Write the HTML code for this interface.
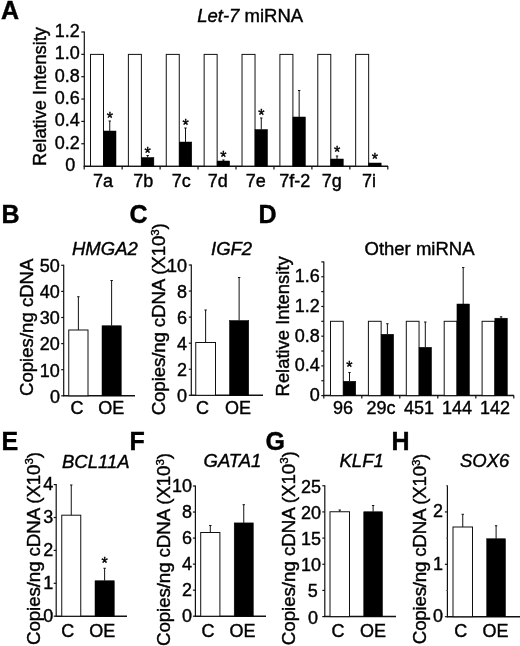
<!DOCTYPE html>
<html lang="en"><head><meta charset="utf-8"><title>Figure</title>
<style>
html,body{margin:0;padding:0;background:#fff;}
svg{display:block;font-family:"Liberation Sans",sans-serif;font-size:18px;fill:#000;}
text{stroke:#000;stroke-width:0.4px;}
</style></head><body>
<svg width="520" height="646" viewBox="0 0 520 646">
<rect x="0" y="0" width="520" height="646" fill="#fff"/>
<text x="1" y="18.8" font-size="25" font-weight="bold">A</text>
<text x="197.2" y="21.9" font-size="18.5"><tspan font-style="italic">Let-7</tspan> miRNA</text>
<text transform="translate(46 166) rotate(-90)" font-size="18.25">Relative Intensity</text>
<line x1="84.3" y1="31.5" x2="84.3" y2="166.6" stroke="#111" stroke-width="1.2"/>
<line x1="83.8" y1="166.3" x2="388" y2="166.3" stroke="#111" stroke-width="1.6"/>
<line x1="81.3" y1="32.0" x2="84.3" y2="32.0" stroke="#111" stroke-width="1.2"/>
<text x="79.8" y="36.8" text-anchor="end">1.2</text>
<line x1="81.3" y1="54.35" x2="84.3" y2="54.35" stroke="#111" stroke-width="1.2"/>
<text x="79.8" y="59.15" text-anchor="end">1.0</text>
<line x1="81.3" y1="76.7" x2="84.3" y2="76.7" stroke="#111" stroke-width="1.2"/>
<text x="79.8" y="81.5" text-anchor="end">0.8</text>
<line x1="81.3" y1="99.05" x2="84.3" y2="99.05" stroke="#111" stroke-width="1.2"/>
<text x="79.8" y="103.85" text-anchor="end">0.6</text>
<line x1="81.3" y1="121.4" x2="84.3" y2="121.4" stroke="#111" stroke-width="1.2"/>
<text x="79.8" y="126.2" text-anchor="end">0.4</text>
<line x1="81.3" y1="143.75" x2="84.3" y2="143.75" stroke="#111" stroke-width="1.2"/>
<text x="79.8" y="148.55" text-anchor="end">0.2</text>
<text x="75.3" y="171.4" text-anchor="end">0</text>
<line x1="84.2" y1="166.1" x2="84.2" y2="169.6" stroke="#111" stroke-width="1.2"/>
<line x1="122.15" y1="166.1" x2="122.15" y2="169.6" stroke="#111" stroke-width="1.2"/>
<line x1="160.1" y1="166.1" x2="160.1" y2="169.6" stroke="#111" stroke-width="1.2"/>
<line x1="198.05" y1="166.1" x2="198.05" y2="169.6" stroke="#111" stroke-width="1.2"/>
<line x1="236.0" y1="166.1" x2="236.0" y2="169.6" stroke="#111" stroke-width="1.2"/>
<line x1="273.95" y1="166.1" x2="273.95" y2="169.6" stroke="#111" stroke-width="1.2"/>
<line x1="311.9" y1="166.1" x2="311.9" y2="169.6" stroke="#111" stroke-width="1.2"/>
<line x1="349.85" y1="166.1" x2="349.85" y2="169.6" stroke="#111" stroke-width="1.2"/>
<line x1="387.8" y1="166.1" x2="387.8" y2="169.6" stroke="#111" stroke-width="1.2"/>
<rect x="90.50" y="54.40" width="13.00" height="111.70" fill="#fff" stroke="#111" stroke-width="1"/>
<rect x="103.50" y="131.00" width="12.50" height="35.10" fill="#000" stroke="#000" stroke-width="0.5"/>
<line x1="109.75" y1="131" x2="109.75" y2="121" stroke="#111" stroke-width="1"/>
<line x1="108.55" y1="121" x2="110.95" y2="121" stroke="#111" stroke-width="1"/>
<text x="109.75" y="124" text-anchor="middle" font-size="16">*</text>
<text x="102.98" y="187" text-anchor="middle">7a</text>
<rect x="128.38" y="54.40" width="13.00" height="111.70" fill="#fff" stroke="#111" stroke-width="1"/>
<rect x="141.38" y="157.50" width="12.50" height="8.60" fill="#000" stroke="#000" stroke-width="0.5"/>
<line x1="147.63" y1="157.5" x2="147.63" y2="155.5" stroke="#111" stroke-width="1"/>
<line x1="146.43" y1="155.5" x2="148.83" y2="155.5" stroke="#111" stroke-width="1"/>
<text x="147.63" y="158.5" text-anchor="middle" font-size="16">*</text>
<text x="143.23" y="187" text-anchor="middle">7b</text>
<rect x="166.26" y="54.40" width="13.00" height="111.70" fill="#fff" stroke="#111" stroke-width="1"/>
<rect x="179.26" y="142.00" width="12.50" height="24.10" fill="#000" stroke="#000" stroke-width="0.5"/>
<line x1="185.51" y1="142" x2="185.51" y2="128" stroke="#111" stroke-width="1"/>
<line x1="184.31" y1="128" x2="186.71" y2="128" stroke="#111" stroke-width="1"/>
<text x="185.51" y="130.5" text-anchor="middle" font-size="16">*</text>
<text x="181.38" y="187" text-anchor="middle">7c</text>
<rect x="204.14" y="54.40" width="13.00" height="111.70" fill="#fff" stroke="#111" stroke-width="1"/>
<rect x="217.14" y="161.00" width="12.50" height="5.10" fill="#000" stroke="#000" stroke-width="0.5"/>
<line x1="223.39" y1="161" x2="223.39" y2="160" stroke="#111" stroke-width="1"/>
<line x1="222.19" y1="160" x2="224.59" y2="160" stroke="#111" stroke-width="1"/>
<text x="223.39" y="163" text-anchor="middle" font-size="16">*</text>
<text x="217.83" y="187" text-anchor="middle">7d</text>
<rect x="242.02" y="54.40" width="13.00" height="111.70" fill="#fff" stroke="#111" stroke-width="1"/>
<rect x="255.02" y="129.50" width="12.50" height="36.60" fill="#000" stroke="#000" stroke-width="0.5"/>
<line x1="261.27" y1="129.5" x2="261.27" y2="118" stroke="#111" stroke-width="1"/>
<line x1="260.07" y1="118" x2="262.47" y2="118" stroke="#111" stroke-width="1"/>
<text x="261.27" y="121" text-anchor="middle" font-size="16">*</text>
<text x="255.78" y="187" text-anchor="middle">7e</text>
<rect x="279.90" y="54.40" width="13.00" height="111.70" fill="#fff" stroke="#111" stroke-width="1"/>
<rect x="292.90" y="117.00" width="12.50" height="49.10" fill="#000" stroke="#000" stroke-width="0.5"/>
<line x1="299.15" y1="117" x2="299.15" y2="90.5" stroke="#111" stroke-width="1"/>
<line x1="297.95" y1="90.5" x2="300.35" y2="90.5" stroke="#111" stroke-width="1"/>
<text x="294.73" y="187" text-anchor="middle">7f-2</text>
<rect x="317.78" y="54.40" width="13.00" height="111.70" fill="#fff" stroke="#111" stroke-width="1"/>
<rect x="330.78" y="159.00" width="12.50" height="7.10" fill="#000" stroke="#000" stroke-width="0.5"/>
<line x1="337.03" y1="159" x2="337.03" y2="156" stroke="#111" stroke-width="1"/>
<line x1="335.83" y1="156" x2="338.23" y2="156" stroke="#111" stroke-width="1"/>
<text x="337.03" y="157.5" text-anchor="middle" font-size="16">*</text>
<text x="331.68" y="187" text-anchor="middle">7g</text>
<rect x="355.66" y="54.40" width="13.00" height="111.70" fill="#fff" stroke="#111" stroke-width="1"/>
<rect x="368.66" y="163.00" width="12.50" height="3.10" fill="#000" stroke="#000" stroke-width="0.5"/>
<text x="374.91" y="164.5" text-anchor="middle" font-size="16">*</text>
<text x="369.12" y="187" text-anchor="middle">7i</text>
<text x="1.5" y="222.5" font-size="25" font-weight="bold">B</text>
<text x="72" y="255" font-size="18.5" font-style="italic">HMGA2</text>
<text transform="translate(33.3 396) rotate(-90)" font-size="18.6">Copies/ng cDNA</text>
<line x1="63.7" y1="264.8" x2="63.7" y2="396.3" stroke="#111" stroke-width="1.2"/>
<line x1="63.2" y1="395.8" x2="135" y2="395.8" stroke="#111" stroke-width="1.5"/>
<line x1="61.2" y1="265.3" x2="63.7" y2="265.3" stroke="#111" stroke-width="1.2"/>
<text x="59.9" y="272.1" text-anchor="end">50</text>
<line x1="61.2" y1="291.4" x2="63.7" y2="291.4" stroke="#111" stroke-width="1.2"/>
<text x="59.9" y="298.2" text-anchor="end">40</text>
<line x1="61.2" y1="317.5" x2="63.7" y2="317.5" stroke="#111" stroke-width="1.2"/>
<text x="59.9" y="324.3" text-anchor="end">30</text>
<line x1="61.2" y1="343.6" x2="63.7" y2="343.6" stroke="#111" stroke-width="1.2"/>
<text x="59.9" y="350.4" text-anchor="end">20</text>
<line x1="61.2" y1="369.7" x2="63.7" y2="369.7" stroke="#111" stroke-width="1.2"/>
<text x="59.9" y="376.5" text-anchor="end">10</text>
<line x1="61.2" y1="395.8" x2="63.7" y2="395.8" stroke="#111" stroke-width="1.2"/>
<text x="59.9" y="402.6" text-anchor="end">0</text>
<rect x="68.75" y="330.00" width="19.25" height="65.80" fill="#fff" stroke="#111" stroke-width="1"/>
<line x1="78.38" y1="330" x2="78.38" y2="296.75" stroke="#111" stroke-width="1"/>
<line x1="77.17" y1="296.75" x2="79.58" y2="296.75" stroke="#111" stroke-width="1"/>
<rect x="102.00" y="325.75" width="19.25" height="70.05" fill="#000" stroke="#000" stroke-width="0.5"/>
<line x1="111.62" y1="325.75" x2="111.62" y2="280.5" stroke="#111" stroke-width="1"/>
<line x1="110.42" y1="280.5" x2="112.83" y2="280.5" stroke="#111" stroke-width="1"/>
<text x="77" y="413.8" text-anchor="middle">C</text>
<text x="111.25" y="413.8" text-anchor="middle">OE</text>
<text x="129.5" y="222.5" font-size="25" font-weight="bold">C</text>
<text x="211" y="254.8" font-size="18.5" font-style="italic">IGF2</text>
<text transform="translate(165.3 415.3) rotate(-90)" font-size="18.8" textLength="192">Copies/ng cDNA (X10<tspan font-size="11.5" dy="-6.5">3</tspan><tspan dy="6.5">)</tspan></text>
<line x1="191.3" y1="264.5" x2="191.3" y2="395.8" stroke="#111" stroke-width="1.2"/>
<line x1="190.8" y1="395.3" x2="263" y2="395.3" stroke="#111" stroke-width="1.5"/>
<line x1="188.8" y1="265.0" x2="191.3" y2="265.0" stroke="#111" stroke-width="1.2"/>
<text x="187" y="271.7" text-anchor="end">10</text>
<line x1="188.8" y1="291.06" x2="191.3" y2="291.06" stroke="#111" stroke-width="1.2"/>
<text x="187" y="297.76" text-anchor="end">8</text>
<line x1="188.8" y1="317.12" x2="191.3" y2="317.12" stroke="#111" stroke-width="1.2"/>
<text x="187" y="323.82" text-anchor="end">6</text>
<line x1="188.8" y1="343.18" x2="191.3" y2="343.18" stroke="#111" stroke-width="1.2"/>
<text x="187" y="349.88" text-anchor="end">4</text>
<line x1="188.8" y1="369.24" x2="191.3" y2="369.24" stroke="#111" stroke-width="1.2"/>
<text x="187" y="375.94" text-anchor="end">2</text>
<line x1="188.8" y1="395.3" x2="191.3" y2="395.3" stroke="#111" stroke-width="1.2"/>
<text x="187" y="402.0" text-anchor="end">0</text>
<rect x="195.75" y="342.50" width="19.75" height="52.80" fill="#fff" stroke="#111" stroke-width="1"/>
<line x1="205.62" y1="342.5" x2="205.62" y2="310" stroke="#111" stroke-width="1"/>
<line x1="204.43" y1="310" x2="206.82" y2="310" stroke="#111" stroke-width="1"/>
<rect x="229.50" y="320.50" width="19.25" height="74.80" fill="#000" stroke="#000" stroke-width="0.5"/>
<line x1="239.12" y1="320.5" x2="239.12" y2="277.5" stroke="#111" stroke-width="1"/>
<line x1="237.93" y1="277.5" x2="240.32" y2="277.5" stroke="#111" stroke-width="1"/>
<text x="202.5" y="413.8" text-anchor="middle">C</text>
<text x="238" y="413.8" text-anchor="middle">OE</text>
<text x="1.5" y="449.5" font-size="25" font-weight="bold">E</text>
<text x="62" y="467.5" font-size="18.5" font-style="italic">BCL11A</text>
<text transform="translate(39.6 645) rotate(-90)" font-size="18.8" textLength="193">Copies/ng cDNA (X10<tspan font-size="11.5" dy="-6.5">3</tspan><tspan dy="6.5">)</tspan></text>
<line x1="56.2" y1="484.1" x2="56.2" y2="616.7" stroke="#111" stroke-width="1.2"/>
<line x1="55.7" y1="616.2" x2="127" y2="616.2" stroke="#111" stroke-width="1.5"/>
<line x1="53.7" y1="484.6" x2="56.2" y2="484.6" stroke="#111" stroke-width="1.2"/>
<text x="53.3" y="490.2" text-anchor="end">4</text>
<line x1="53.7" y1="517.5" x2="56.2" y2="517.5" stroke="#111" stroke-width="1.2"/>
<text x="53.3" y="523.1" text-anchor="end">3</text>
<line x1="53.7" y1="550.4" x2="56.2" y2="550.4" stroke="#111" stroke-width="1.2"/>
<text x="53.3" y="556.0" text-anchor="end">2</text>
<line x1="53.7" y1="583.3" x2="56.2" y2="583.3" stroke="#111" stroke-width="1.2"/>
<text x="53.3" y="588.9" text-anchor="end">1</text>
<line x1="53.7" y1="616.2" x2="56.2" y2="616.2" stroke="#111" stroke-width="1.2"/>
<text x="53.3" y="621.8" text-anchor="end">0</text>
<rect x="61.75" y="515.20" width="19.00" height="101.00" fill="#fff" stroke="#111" stroke-width="1"/>
<line x1="71.25" y1="515.2" x2="71.25" y2="485" stroke="#111" stroke-width="1"/>
<line x1="70.05" y1="485" x2="72.45" y2="485" stroke="#111" stroke-width="1"/>
<rect x="95.00" y="580.75" width="19.25" height="35.45" fill="#000" stroke="#000" stroke-width="0.5"/>
<line x1="104.62" y1="580.75" x2="104.62" y2="568.25" stroke="#111" stroke-width="1"/>
<line x1="103.42" y1="568.25" x2="105.83" y2="568.25" stroke="#111" stroke-width="1"/>
<text x="67.8" y="637.3" text-anchor="middle">C</text>
<text x="102.3" y="637.3" text-anchor="middle">OE</text>
<text x="104.6" y="568.8" text-anchor="middle" font-size="16">*</text>
<text x="129.5" y="449.5" font-size="25" font-weight="bold">F</text>
<text x="203.5" y="467.3" font-size="18.5" font-style="italic">GATA1</text>
<text transform="translate(170.3 646) rotate(-90)" font-size="18.8" textLength="193">Copies/ng cDNA (X10<tspan font-size="11.5" dy="-6.5">3</tspan><tspan dy="6.5">)</tspan></text>
<line x1="195.4" y1="485.5" x2="195.4" y2="616.7" stroke="#111" stroke-width="1.2"/>
<line x1="194.9" y1="616.2" x2="266" y2="616.2" stroke="#111" stroke-width="1.5"/>
<line x1="192.9" y1="486.0" x2="195.4" y2="486.0" stroke="#111" stroke-width="1.2"/>
<text x="192" y="491.5" text-anchor="end">10</text>
<line x1="192.9" y1="512.04" x2="195.4" y2="512.04" stroke="#111" stroke-width="1.2"/>
<text x="192" y="517.54" text-anchor="end">8</text>
<line x1="192.9" y1="538.08" x2="195.4" y2="538.08" stroke="#111" stroke-width="1.2"/>
<text x="192" y="543.58" text-anchor="end">6</text>
<line x1="192.9" y1="564.12" x2="195.4" y2="564.12" stroke="#111" stroke-width="1.2"/>
<text x="192" y="569.62" text-anchor="end">4</text>
<line x1="192.9" y1="590.16" x2="195.4" y2="590.16" stroke="#111" stroke-width="1.2"/>
<text x="192" y="595.66" text-anchor="end">2</text>
<line x1="192.9" y1="616.2" x2="195.4" y2="616.2" stroke="#111" stroke-width="1.2"/>
<text x="192" y="621.7" text-anchor="end">0</text>
<rect x="200.70" y="532.50" width="19.20" height="83.70" fill="#fff" stroke="#111" stroke-width="1"/>
<line x1="210.3" y1="532.5" x2="210.3" y2="525.5" stroke="#111" stroke-width="1"/>
<line x1="209.1" y1="525.5" x2="211.5" y2="525.5" stroke="#111" stroke-width="1"/>
<rect x="234.20" y="522.90" width="19.10" height="93.30" fill="#000" stroke="#000" stroke-width="0.5"/>
<line x1="243.75" y1="522.9" x2="243.75" y2="504.7" stroke="#111" stroke-width="1"/>
<line x1="242.55" y1="504.7" x2="244.95" y2="504.7" stroke="#111" stroke-width="1"/>
<text x="208" y="637.3" text-anchor="middle">C</text>
<text x="242.5" y="637.3" text-anchor="middle">OE</text>
<text x="265.5" y="450.3" font-size="25" font-weight="bold">G</text>
<text x="339.5" y="467.3" font-size="18.5" font-style="italic">KLF1</text>
<text transform="translate(294.6 645.2) rotate(-90)" font-size="18.8" textLength="194">Copies/ng cDNA (X10<tspan font-size="11.5" dy="-6.5">3</tspan><tspan dy="6.5">)</tspan></text>
<line x1="324.8" y1="485.25" x2="324.8" y2="617.1" stroke="#111" stroke-width="1.2"/>
<line x1="324.3" y1="616.6" x2="396" y2="616.6" stroke="#111" stroke-width="1.5"/>
<line x1="322.3" y1="485.75" x2="324.8" y2="485.75" stroke="#111" stroke-width="1.2"/>
<text x="321" y="492.75" text-anchor="end">25</text>
<line x1="322.3" y1="511.92" x2="324.8" y2="511.92" stroke="#111" stroke-width="1.2"/>
<text x="321" y="518.92" text-anchor="end">20</text>
<line x1="322.3" y1="538.09" x2="324.8" y2="538.09" stroke="#111" stroke-width="1.2"/>
<text x="321" y="545.09" text-anchor="end">15</text>
<line x1="322.3" y1="564.26" x2="324.8" y2="564.26" stroke="#111" stroke-width="1.2"/>
<text x="321" y="571.26" text-anchor="end">10</text>
<line x1="322.3" y1="590.43" x2="324.8" y2="590.43" stroke="#111" stroke-width="1.2"/>
<text x="317.7" y="597.43" text-anchor="end">5</text>
<line x1="322.3" y1="616.6" x2="324.8" y2="616.6" stroke="#111" stroke-width="1.2"/>
<text x="318" y="623.6" text-anchor="end">0</text>
<rect x="330.00" y="511.75" width="19.50" height="104.85" fill="#fff" stroke="#111" stroke-width="1"/>
<line x1="339.75" y1="511.75" x2="339.75" y2="510" stroke="#111" stroke-width="1"/>
<line x1="338.55" y1="510" x2="340.95" y2="510" stroke="#111" stroke-width="1"/>
<rect x="363.75" y="511.75" width="18.75" height="104.85" fill="#000" stroke="#000" stroke-width="0.5"/>
<line x1="373.12" y1="511.75" x2="373.12" y2="505.5" stroke="#111" stroke-width="1"/>
<line x1="371.93" y1="505.5" x2="374.32" y2="505.5" stroke="#111" stroke-width="1"/>
<text x="338" y="637.3" text-anchor="middle">C</text>
<text x="373" y="637.3" text-anchor="middle">OE</text>
<text x="391.5" y="449.5" font-size="25" font-weight="bold">H</text>
<text x="460" y="467.2" font-size="18.5" font-style="italic">SOX6</text>
<text transform="translate(426.2 644.2) rotate(-90)" font-size="18.8" textLength="190.5">Copies/ng cDNA (X10<tspan font-size="11.5" dy="-6.5">3</tspan><tspan dy="6.5">)</tspan></text>
<line x1="447.4" y1="485.25" x2="447.4" y2="617.2" stroke="#111" stroke-width="1.2"/>
<line x1="446.9" y1="616.7" x2="520" y2="616.7" stroke="#111" stroke-width="1.5"/>
<line x1="445.9" y1="485.75" x2="447.4" y2="485.75" stroke="#777" stroke-width="1"/>
<line x1="444.9" y1="511.94" x2="447.4" y2="511.94" stroke="#111" stroke-width="1.2"/>
<text x="443" y="517.34" text-anchor="end">2</text>
<line x1="445.9" y1="538.13" x2="447.4" y2="538.13" stroke="#777" stroke-width="1"/>
<line x1="444.9" y1="564.32" x2="447.4" y2="564.32" stroke="#111" stroke-width="1.2"/>
<text x="443" y="569.72" text-anchor="end">1</text>
<line x1="445.9" y1="590.51" x2="447.4" y2="590.51" stroke="#777" stroke-width="1"/>
<line x1="444.9" y1="616.7" x2="447.4" y2="616.7" stroke="#111" stroke-width="1.2"/>
<text x="443" y="622.1" text-anchor="end">0</text>
<rect x="453.00" y="527.00" width="19.50" height="89.70" fill="#fff" stroke="#111" stroke-width="1"/>
<line x1="462.75" y1="527" x2="462.75" y2="514.3" stroke="#111" stroke-width="1"/>
<line x1="461.55" y1="514.3" x2="463.95" y2="514.3" stroke="#111" stroke-width="1"/>
<rect x="486.70" y="538.75" width="18.80" height="77.95" fill="#000" stroke="#000" stroke-width="0.5"/>
<line x1="496.1" y1="538.75" x2="496.1" y2="525.75" stroke="#111" stroke-width="1"/>
<line x1="494.9" y1="525.75" x2="497.3" y2="525.75" stroke="#111" stroke-width="1"/>
<text x="460.75" y="637.3" text-anchor="middle">C</text>
<text x="495.6" y="637.3" text-anchor="middle">OE</text>
<text x="258.5" y="222.5" font-size="25" font-weight="bold">D</text>
<text x="364.5" y="254.6" font-size="18.5">Other miRNA</text>
<text transform="translate(288.6 396.4) rotate(-90)" font-size="18.4">Relative Intensity</text>
<line x1="323.8" y1="261.4" x2="323.8" y2="396.1" stroke="#111" stroke-width="1.2"/>
<line x1="323.3" y1="395.6" x2="514" y2="395.6" stroke="#111" stroke-width="1.5"/>
<line x1="321.3" y1="395.6" x2="323.8" y2="395.6" stroke="#111" stroke-width="1.2"/>
<line x1="321.3" y1="380.74" x2="323.8" y2="380.74" stroke="#111" stroke-width="1.2"/>
<line x1="321.3" y1="365.89" x2="323.8" y2="365.89" stroke="#111" stroke-width="1.2"/>
<line x1="321.3" y1="351.03" x2="323.8" y2="351.03" stroke="#111" stroke-width="1.2"/>
<line x1="321.3" y1="336.18" x2="323.8" y2="336.18" stroke="#111" stroke-width="1.2"/>
<line x1="321.3" y1="321.32" x2="323.8" y2="321.32" stroke="#111" stroke-width="1.2"/>
<line x1="321.3" y1="306.47" x2="323.8" y2="306.47" stroke="#111" stroke-width="1.2"/>
<line x1="321.3" y1="291.61" x2="323.8" y2="291.61" stroke="#111" stroke-width="1.2"/>
<line x1="321.3" y1="276.76" x2="323.8" y2="276.76" stroke="#111" stroke-width="1.2"/>
<line x1="321.3" y1="261.9" x2="323.8" y2="261.9" stroke="#111" stroke-width="1.2"/>
<text x="319.8" y="282.26" text-anchor="end">1.6</text>
<text x="319.8" y="311.97" text-anchor="end">1.2</text>
<text x="319.8" y="341.68" text-anchor="end">0.8</text>
<text x="319.8" y="371.39" text-anchor="end">0.4</text>
<text x="319.8" y="401.1" text-anchor="end">0</text>
<line x1="323.8" y1="395.6" x2="323.8" y2="398.6" stroke="#111" stroke-width="1.2"/>
<line x1="361.8" y1="395.6" x2="361.8" y2="398.6" stroke="#111" stroke-width="1.2"/>
<line x1="399.8" y1="395.6" x2="399.8" y2="398.6" stroke="#111" stroke-width="1.2"/>
<line x1="437.8" y1="395.6" x2="437.8" y2="398.6" stroke="#111" stroke-width="1.2"/>
<line x1="475.8" y1="395.6" x2="475.8" y2="398.6" stroke="#111" stroke-width="1.2"/>
<line x1="513.8" y1="395.6" x2="513.8" y2="398.6" stroke="#111" stroke-width="1.2"/>
<rect x="330.50" y="321.30" width="12.75" height="74.30" fill="#fff" stroke="#111" stroke-width="1"/>
<rect x="343.25" y="381.25" width="12.50" height="14.35" fill="#000" stroke="#000" stroke-width="0.5"/>
<line x1="349.5" y1="381.25" x2="349.5" y2="372.5" stroke="#111" stroke-width="1"/>
<line x1="348.3" y1="372.5" x2="350.7" y2="372.5" stroke="#111" stroke-width="1"/>
<text x="343.1" y="413.6" text-anchor="middle">96</text>
<rect x="368.40" y="321.30" width="12.75" height="74.30" fill="#fff" stroke="#111" stroke-width="1"/>
<rect x="381.15" y="334.25" width="12.50" height="61.35" fill="#000" stroke="#000" stroke-width="0.5"/>
<line x1="387.4" y1="334.25" x2="387.4" y2="323.75" stroke="#111" stroke-width="1"/>
<line x1="386.2" y1="323.75" x2="388.6" y2="323.75" stroke="#111" stroke-width="1"/>
<text x="381.1" y="413.6" text-anchor="middle">29c</text>
<rect x="406.30" y="321.30" width="12.75" height="74.30" fill="#fff" stroke="#111" stroke-width="1"/>
<rect x="419.05" y="347.30" width="12.50" height="48.30" fill="#000" stroke="#000" stroke-width="0.5"/>
<line x1="425.3" y1="347.3" x2="425.3" y2="322" stroke="#111" stroke-width="1"/>
<line x1="424.1" y1="322" x2="426.5" y2="322" stroke="#111" stroke-width="1"/>
<text x="419.1" y="413.6" text-anchor="middle">451</text>
<rect x="444.20" y="321.30" width="12.75" height="74.30" fill="#fff" stroke="#111" stroke-width="1"/>
<rect x="456.95" y="304.00" width="12.50" height="91.60" fill="#000" stroke="#000" stroke-width="0.5"/>
<line x1="463.2" y1="304" x2="463.2" y2="267.6" stroke="#111" stroke-width="1"/>
<line x1="462.0" y1="267.6" x2="464.4" y2="267.6" stroke="#111" stroke-width="1"/>
<text x="457.1" y="413.6" text-anchor="middle">144</text>
<rect x="482.10" y="321.30" width="12.75" height="74.30" fill="#fff" stroke="#111" stroke-width="1"/>
<rect x="494.85" y="318.20" width="12.50" height="77.40" fill="#000" stroke="#000" stroke-width="0.5"/>
<line x1="501.1" y1="318.2" x2="501.1" y2="316.8" stroke="#111" stroke-width="1"/>
<line x1="499.9" y1="316.8" x2="502.3" y2="316.8" stroke="#111" stroke-width="1"/>
<text x="495.1" y="413.6" text-anchor="middle">142</text>
<text x="349.3" y="372.8" text-anchor="middle" font-size="16">*</text>
</svg>
</body></html>
